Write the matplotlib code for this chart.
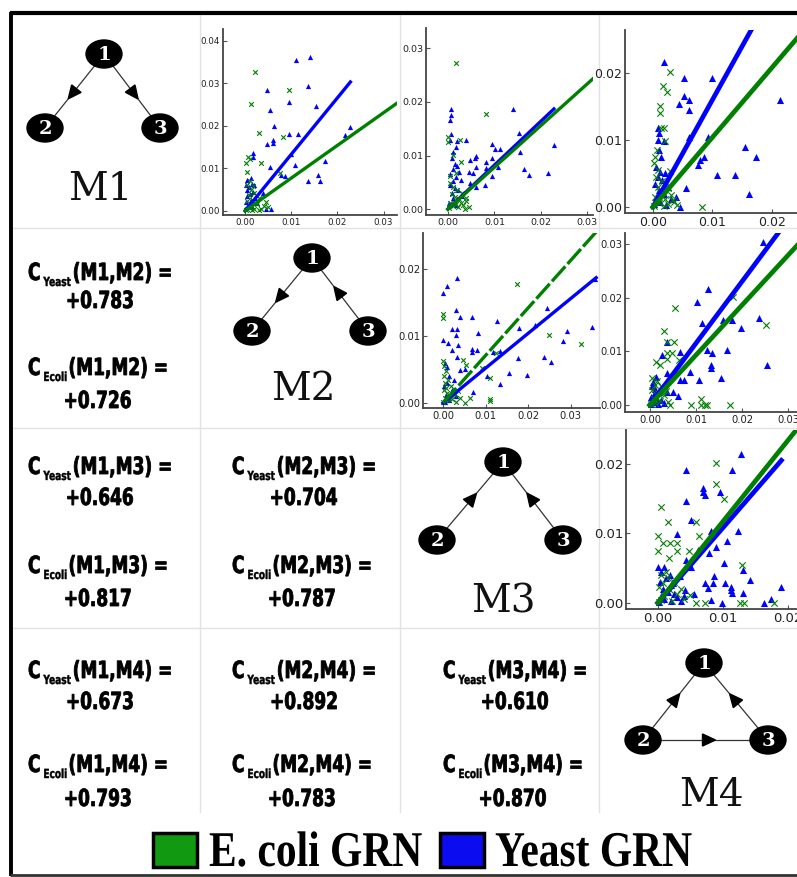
import numpy as np
import matplotlib.pyplot as plt
from matplotlib.patches import Ellipse, Polygon, Rectangle, PathPatch
from matplotlib.ticker import FormatStrFormatter
from matplotlib.textpath import TextPath
from matplotlib.font_manager import FontProperties
from matplotlib.transforms import Affine2D

W, H = 797, 877
SANS = 'DejaVu Sans'
SERIF = 'DejaVu Serif'
BLUE = (0, 0, 1)
GREEN = (0, 0.5, 0)

# correlation of motif participation between pairs of motifs
pairs = ['M1,M2', 'M1,M3', 'M1,M4', 'M2,M3', 'M2,M4', 'M3,M4']
c_yeast = [0.783, 0.646, 0.673, 0.704, 0.892, 0.610]
c_ecoli = [0.726, 0.817, 0.793, 0.787, 0.783, 0.870]

# scatter points (x, y) per motif pair
yeast_m1_m2 = [(0.0111, 0.0354), (0.0140, 0.0362), (0.0047, 0.0284), (0.0136, 0.0293), (0.0095, 0.0256),
               (0.0153, 0.0246), (0.0053, 0.0238), (0.0062, 0.0199), (0.0060, 0.0166), (0.0060, 0.0160),
               (0.0048, 0.0157), (0.0096, 0.0180), (0.0114, 0.0180), (0.0100, 0.0134), (0.0228, 0.0198),
               (0.0216, 0.0178), (0.0172, 0.0116), (0.0107, 0.0108), (0.0053, 0.0104), (0.0018, 0.0135),
               (0.0018, 0.0127), (0.0078, 0.0084), (0.0086, 0.0082), (0.0136, 0.0069), (0.0158, 0.0084),
               (0.0162, 0.0069), (0.0046, 0.0004), (0.0057, 0.0004), (0.0038, 0.0041), (0.0005, 0.0072),
               (0.0012, 0.0078), (0.0015, 0.0062), (0.0008, 0.0055), (0.0003, 0.0048), (0.0018, 0.0045),
               (0.0010, 0.0040), (0.0005, 0.0035), (0.0022, 0.0030), (0.0012, 0.0025), (0.0002, 0.0020),
               (0.0008, 0.0015), (0.0015, 0.0010), (0.0003, 0.0008), (0.0025, 0.0018), (0.0020, 0.0060),
               (0.0001, 0.0060)]
ecoli_m1_m2 = [(0.0022, 0.0327), (0.0096, 0.0285), (0.0012, 0.0251), (0.0030, 0.0182), (0.0082, 0.0174),
               (0.0006, 0.0127), (0.0010, 0.0122), (0.0001, 0.0112), (0.0035, 0.0113), (0.0004, 0.0091),
               (0.0075, 0.0088), (0.0005, 0.0060), (0.0012, 0.0050), (0.0020, 0.0042), (0.0008, 0.0038),
               (0.0030, 0.0030), (0.0015, 0.0025), (0.0004, 0.0022), (0.0025, 0.0015), (0.0040, 0.0012),
               (0.0010, 0.0010), (0.0005, 0.0005), (0.0020, 0.0004), (0.0035, 0.0005), (0.0015, 0.0002),
               (0.0002, 0.0001), (0.0030, 0.0001), (0.0050, 0.0008), (0.0010, 0.0070), (0.0018, 0.0058),
               (0.0045, 0.0020)]

yeast_m1_m3 = [(0.0006, 0.0187), (0.0006, 0.0175), (0.0005, 0.0166), (0.0007, 0.0140), (0.0004, 0.0129),
               (0.0020, 0.0127), (0.0040, 0.0129), (0.0141, 0.0187), (0.0152, 0.0142), (0.0094, 0.0122),
               (0.0101, 0.0113), (0.0112, 0.0113), (0.0047, 0.0092), (0.0060, 0.0100), (0.0058, 0.0096),
               (0.0083, 0.0088), (0.0094, 0.0095), (0.0108, 0.0079), (0.0045, 0.0070), (0.0053, 0.0068),
               (0.0061, 0.0079), (0.0081, 0.0076), (0.0094, 0.0061), (0.0080, 0.0045), (0.0061, 0.0042),
               (0.0047, 0.0048), (0.0155, 0.0107), (0.0163, 0.0074), (0.0174, 0.0064), (0.0215, 0.0067),
               (0.0228, 0.0119), (0.0018, 0.0116), (0.0011, 0.0107), (0.0008, 0.0095), (0.0015, 0.0085),
               (0.0020, 0.0080), (0.0010, 0.0075), (0.0025, 0.0070), (0.0005, 0.0065), (0.0018, 0.0060),
               (0.0012, 0.0052), (0.0028, 0.0055), (0.0004, 0.0045), (0.0015, 0.0040), (0.0022, 0.0035),
               (0.0008, 0.0030), (0.0030, 0.0025), (0.0012, 0.0020), (0.0003, 0.0012), (0.0018, 0.0008)]
ecoli_m1_m3 = [(0.0017, 0.0272), (0.0082, 0.0178), (0.0000, 0.0134), (0.0000, 0.0126), (0.0027, 0.0129),
               (0.0011, 0.0101), (0.0029, 0.0088), (0.0004, 0.0061), (0.0018, 0.0067), (0.0036, 0.0000),
               (0.0029, 0.0011), (0.0005, 0.0048), (0.0012, 0.0042), (0.0020, 0.0035), (0.0030, 0.0030),
               (0.0008, 0.0028), (0.0015, 0.0022), (0.0025, 0.0018), (0.0040, 0.0015), (0.0005, 0.0012),
               (0.0018, 0.0010), (0.0032, 0.0008), (0.0010, 0.0005), (0.0022, 0.0003), (0.0003, 0.0002),
               (0.0045, 0.0004), (0.0038, 0.0020)]

yeast_m1_m4 = [(0.0019, 0.0216), (0.0052, 0.0192), (0.0099, 0.0192), (0.0052, 0.0165), (0.0060, 0.0160),
               (0.0044, 0.0154), (0.0061, 0.0145), (0.0061, 0.0105), (0.0214, 0.0159), (0.0093, 0.0105),
               (0.0085, 0.0075), (0.0079, 0.0070), (0.0076, 0.0062), (0.0107, 0.0048), (0.0138, 0.0048),
               (0.0155, 0.0090), (0.0173, 0.0075), (0.0162, 0.0020), (0.0056, 0.0028), (0.0045, 0.0000),
               (0.0038, 0.0015), (0.0008, 0.0118), (0.0010, 0.0110), (0.0018, 0.0098), (0.0014, 0.0075),
               (0.0008, 0.0100), (0.0010, 0.0085), (0.0005, 0.0060), (0.0012, 0.0052), (0.0020, 0.0050),
               (0.0008, 0.0045), (0.0015, 0.0040), (0.0003, 0.0035), (0.0025, 0.0030), (0.0010, 0.0025),
               (0.0018, 0.0020), (0.0005, 0.0015), (0.0030, 0.0012), (0.0012, 0.0008), (0.0002, 0.0004),
               (0.0022, 0.0003)]
ecoli_m1_m4 = [(0.0029, 0.0202), (0.0017, 0.0181), (0.0023, 0.0171), (0.0012, 0.0150), (0.0012, 0.0140),
               (0.0014, 0.0118), (0.0018, 0.0118), (0.0021, 0.0098), (0.0006, 0.0085), (0.0003, 0.0075),
               (0.0002, 0.0065), (0.0082, 0.0000), (0.0034, 0.0011), (0.0028, 0.0053), (0.0005, 0.0045),
               (0.0015, 0.0038), (0.0008, 0.0030), (0.0025, 0.0028), (0.0012, 0.0022), (0.0030, 0.0018),
               (0.0004, 0.0015), (0.0020, 0.0012), (0.0035, 0.0008), (0.0010, 0.0006), (0.0025, 0.0004),
               (0.0002, 0.0002), (0.0040, 0.0003), (0.0018, 0.0001), (0.0008, 0.0055)]

yeast_m2_m3 = [(0.0032, 0.0187), (0.0009, 0.0175), (0.0000, 0.0164), (0.0030, 0.0139), (0.0039, 0.0129),
               (0.0067, 0.0129), (0.0020, 0.0111), (0.0032, 0.0111), (0.0083, 0.0104), (0.0030, 0.0102),
               (0.0126, 0.0122), (0.0178, 0.0112), (0.0245, 0.0142), (0.0217, 0.0117), (0.0292, 0.0107),
               (0.0351, 0.0114), (0.0283, 0.0092), (0.0237, 0.0069), (0.0254, 0.0061), (0.0177, 0.0067),
               (0.0156, 0.0045), (0.0197, 0.0042), (0.0134, 0.0029), (0.0118, 0.0076), (0.0134, 0.0077),
               (0.0081, 0.0079), (0.0067, 0.0081), (0.0069, 0.0076), (0.0036, 0.0086), (0.0022, 0.0079),
               (0.0032, 0.0069), (0.0051, 0.0051), (0.0103, 0.0041), (0.0071, 0.0017), (0.0012, 0.0089),
               (0.0000, 0.0094), (0.0009, 0.0054), (0.0041, 0.0049), (0.0358, 0.0186), (0.0005, 0.0060),
               (0.0015, 0.0040), (0.0010, 0.0030), (0.0025, 0.0035), (0.0003, 0.0025), (0.0020, 0.0020),
               (0.0008, 0.0012), (0.0030, 0.0010), (0.0015, 0.0005), (0.0005, 0.0002)]
ecoli_m2_m3 = [(0.0000, 0.0133), (0.0000, 0.0127), (0.0174, 0.0178), (0.0249, 0.0101), (0.0324, 0.0088),
               (0.0125, 0.0074), (0.0111, 0.0038), (0.0111, 0.0006), (0.0111, 0.0003), (0.0047, 0.0064),
               (0.0055, 0.0057), (0.0091, 0.0052), (0.0000, 0.0062), (0.0039, 0.0007), (0.0063, 0.0007),
               (0.0051, 0.0000), (0.0028, 0.0014), (0.0002, 0.0055), (0.0008, 0.0048), (0.0003, 0.0040),
               (0.0012, 0.0035), (0.0005, 0.0030), (0.0018, 0.0025), (0.0002, 0.0020), (0.0010, 0.0015),
               (0.0025, 0.0012), (0.0005, 0.0008), (0.0015, 0.0004), (0.0030, 0.0002), (0.0001, 0.0001),
               (0.0020, 0.0006), (0.0008, 0.0022), (0.0035, 0.0018)]

yeast_m2_m4 = [(0.0246, 0.0304), (0.0125, 0.0215), (0.0103, 0.0192), (0.0114, 0.0153), (0.0177, 0.0158),
               (0.0159, 0.0158), (0.0237, 0.0162), (0.0197, 0.0143), (0.0123, 0.0102), (0.0134, 0.0097),
               (0.0168, 0.0102), (0.0255, 0.0074), (0.0132, 0.0074), (0.0132, 0.0069), (0.0107, 0.0046),
               (0.0154, 0.0051), (0.0088, 0.0062), (0.0065, 0.0046), (0.0074, 0.0046), (0.0056, 0.0061),
               (0.0065, 0.0099), (0.0036, 0.0118), (0.0027, 0.0093), (0.0036, 0.0059), (0.0051, 0.0025),
               (0.0061, 0.0017), (0.0036, 0.0025), (0.0014, 0.0053), (0.0007, 0.0043), (0.0005, 0.0035),
               (0.0012, 0.0030), (0.0020, 0.0025), (0.0008, 0.0020), (0.0003, 0.0015), (0.0015, 0.0012),
               (0.0025, 0.0010), (0.0010, 0.0006), (0.0030, 0.0004), (0.0002, 0.0002), (0.0018, 0.0001)]
ecoli_m2_m4 = [(0.0054, 0.0181), (0.0030, 0.0137), (0.0038, 0.0118), (0.0052, 0.0118), (0.0036, 0.0096),
               (0.0047, 0.0096), (0.0038, 0.0085), (0.0181, 0.0201), (0.0251, 0.0148), (0.0014, 0.0080),
               (0.0022, 0.0074), (0.0064, 0.0084), (0.0089, 0.0000), (0.0110, 0.0000), (0.0119, 0.0000),
               (0.0124, 0.0000), (0.0110, 0.0011), (0.0174, 0.0000), (0.0043, 0.0000), (0.0005, 0.0050),
               (0.0015, 0.0045), (0.0010, 0.0038), (0.0025, 0.0035), (0.0005, 0.0028), (0.0018, 0.0022),
               (0.0030, 0.0018), (0.0008, 0.0012), (0.0022, 0.0008), (0.0040, 0.0005), (0.0012, 0.0003),
               (0.0002, 0.0001), (0.0035, 0.0026)]

yeast_m3_m4 = [(0.0128, 0.0215), (0.0044, 0.0192), (0.0114, 0.0192), (0.0069, 0.0165), (0.0069, 0.0160),
               (0.0072, 0.0155), (0.0044, 0.0146), (0.0096, 0.0160), (0.0051, 0.0119), (0.0082, 0.0103),
               (0.0124, 0.0103), (0.0029, 0.0099), (0.0062, 0.0076), (0.0079, 0.0071), (0.0090, 0.0081),
               (0.0107, 0.0089), (0.0102, 0.0057), (0.0131, 0.0047), (0.0141, 0.0033), (0.0189, 0.0023),
               (0.0113, 0.0023), (0.0113, 0.0018), (0.0114, 0.0014), (0.0131, 0.0014), (0.0104, 0.0028),
               (0.0087, 0.0038), (0.0085, 0.0028), (0.0077, 0.0021), (0.0174, 0.0005), (0.0164, 0.0000),
               (0.0098, 0.0000), (0.0082, 0.0004), (0.0072, 0.0028), (0.0051, 0.0052), (0.0044, 0.0062),
               (0.0034, 0.0038), (0.0000, 0.0052), (0.0009, 0.0052), (0.0018, 0.0040), (0.0023, 0.0028),
               (0.0055, 0.0013), (0.0041, 0.0018), (0.0005, 0.0045), (0.0012, 0.0035), (0.0003, 0.0030),
               (0.0020, 0.0025), (0.0008, 0.0020), (0.0015, 0.0015), (0.0025, 0.0012), (0.0005, 0.0010),
               (0.0030, 0.0008), (0.0010, 0.0005), (0.0020, 0.0003), (0.0002, 0.0001), (0.0035, 0.0002),
               (0.0040, 0.0010)]
ecoli_m3_m4 = [(0.0090, 0.0202), (0.0089, 0.0171), (0.0102, 0.0149), (0.0005, 0.0138), (0.0015, 0.0117),
               (0.0059, 0.0117), (0.0000, 0.0096), (0.0000, 0.0075), (0.0008, 0.0086), (0.0019, 0.0086),
               (0.0029, 0.0086), (0.0030, 0.0075), (0.0048, 0.0075), (0.0064, 0.0096), (0.0017, 0.0065),
               (0.0129, 0.0054), (0.0127, 0.0000), (0.0132, 0.0000), (0.0179, 0.0000), (0.0073, 0.0000),
               (0.0059, 0.0000), (0.0049, 0.0011), (0.0005, 0.0040), (0.0015, 0.0035), (0.0008, 0.0028),
               (0.0025, 0.0030), (0.0002, 0.0022), (0.0018, 0.0018), (0.0030, 0.0012), (0.0010, 0.0010),
               (0.0040, 0.0006), (0.0005, 0.0004), (0.0022, 0.0002), (0.0001, 0.0001), (0.0035, 0.0020),
               (0.0012, 0.0045)]

# linear fits through the origin: slope and x extent
fit_yeast_slope = [1.33, 0.82, 1.60, 0.52, 1.15, 1.08]
fit_yeast_xmax = [0.0228, 0.0228, 0.04, 0.036, 0.04, 0.019]
fit_ecoli_slope = [0.77, 0.78, 1.04, 0.71, 0.93, 1.17]
fit_ecoli_xmax = [0.04, 0.04, 0.04, 0.04, 0.04, 0.04]

yeast_pts = [yeast_m1_m2, yeast_m1_m3, yeast_m1_m4, yeast_m2_m3, yeast_m2_m4, yeast_m3_m4]
ecoli_pts = [ecoli_m1_m2, ecoli_m1_m3, ecoli_m1_m4, ecoli_m2_m3, ecoli_m2_m4, ecoli_m3_m4]

# panel geometry in pixels: left, top, right, bottom
boxes = [(223, 29, 397, 215), (426, 28, 593, 215), (625, 30, 797, 213),
         (423, 233, 600, 408), (625, 233, 797, 412), (626, 430, 797, 609)]
xlims = [(-0.0048, 0.0329), (-0.0047, 0.0312), (-0.0047, 0.0242),
         (-0.0047, 0.0369), (-0.0054, 0.0319), (-0.0049, 0.0214)]
ylims = [(-0.001, 0.0428), (-0.0011, 0.0338), (-0.0009, 0.0264),
         (-0.00075, 0.0254), (-0.0013, 0.032), (-0.0009, 0.0249)]
xtick_max = [0.03, 0.03, 0.02, 0.03, 0.03, 0.02]
ytick_max = [0.04, 0.03, 0.02, 0.02, 0.03, 0.02]
tick_fs = [6.3, 6.8, 9, 7.2, 7.2, 9.5]
big = [False, False, True, False, True, True]

fig = plt.figure(figsize=(W / 100, H / 100), dpi=100)
bg = fig.add_axes([0, 0, 1, 1])
bg.set_xlim(0, W)
bg.set_ylim(H, 0)
bg.axis('off')


def path_text(x, y, s, size, sx, family, ha='left', weight='bold', stroke=0.0):
    # glyph outlines squeezed horizontally by sx; size is the em height in pixels
    tp = TextPath((0, 0), s, size=size, prop=FontProperties(family=family, weight=weight))
    w = tp.get_extents().x1 * sx
    if ha == 'center':
        x -= w / 2
    path = Affine2D().scale(sx, -1).translate(x, y).transform_path(tp)
    bg.add_patch(PathPatch(path, facecolor='black', edgecolor='black', lw=stroke,
                           zorder=6))
    return w


# table grid and outer frame
for x in [200, 400, 599]:
    bg.plot([x, x], [15, 812], color='#e2e2e2', lw=1, zorder=0)
for y in [228, 428, 628]:
    bg.plot([13, W], [y, y], color='#e2e2e2', lw=1, zorder=0)
bg.plot([10, W], [13, 13], color='black', lw=3, solid_capstyle='butt')
bg.plot([11.5, 11.5], [12, 876], color='black', lw=2.8, solid_capstyle='butt')
bg.plot([10, W], [875, 875], color='#333333', lw=2, solid_capstyle='butt')

# scatter panels
for i in range(6):
    l, t, r, b = boxes[i]
    ax = fig.add_axes([l / W, (H - b) / H, (r - l) / W, (b - t) / H])
    yx, yy = np.array(yeast_pts[i]).T
    ex, ey = np.array(ecoli_pts[i]).T
    ms = 26 if big[i] else 14
    ax.scatter(yx, yy, marker='^', s=ms, color=BLUE, linewidths=0, zorder=2)
    ax.scatter(ex, ey, marker='x', s=ms * 0.8, color=GREEN, linewidths=0.8, zorder=3)
    lw = 3.4 if big[i] else 2.4
    xb = np.array([0, fit_yeast_xmax[i]])
    ax.plot(xb, fit_yeast_slope[i] * xb, color=BLUE, lw=lw, zorder=4)
    xg = np.array([0, fit_ecoli_xmax[i]])
    ls = (0, (6, 1)) if i == 3 else '-'
    ax.plot(xg, fit_ecoli_slope[i] * xg, color=GREEN, lw=lw, ls=ls, zorder=5)
    ax.set_xlim(*xlims[i])
    ax.set_ylim(*ylims[i])
    ax.set_xticks(np.arange(0, xtick_max[i] + 1e-4, 0.01))
    ax.set_yticks(np.arange(0, ytick_max[i] + 1e-4, 0.01))
    ax.xaxis.set_major_formatter(FormatStrFormatter('%.2f'))
    ax.yaxis.set_major_formatter(FormatStrFormatter('%.2f'))
    ax.tick_params(direction='in', length=3, width=0.8, color='#555555', labelcolor='#222222',
                   labelsize=tick_fs[i], pad=2, top=False, right=False)
    for s in ['top', 'right']:
        ax.spines[s].set_visible(False)
    for s in ['left', 'bottom']:
        ax.spines[s].set_color('#444444')
        ax.spines[s].set_linewidth(1.3)
    ax.patch.set_alpha(0)


# correlation labels: C with a subscript, then the value centred below
def corr_label(x, y, y2, sub, pair, value):
    sx = 0.72
    x1 = x + path_text(x, y, 'C', 23.6, sx, SANS, stroke=0.6) + 4
    x2 = x1 + path_text(x1, y + 6, sub, 12.5, sx, SANS, stroke=0.3) + 2
    x3 = x2 + path_text(x2, y, '(%s) =' % pair, 23.6, sx, SANS, stroke=0.6)
    path_text((x + x3) / 2, y2, '+%.3f' % value, 23.6, sx, SANS, ha='center', stroke=0.6)


text_x = [28, 232, 443]
row_base = {'M2': (280, 308, 375, 408), 'M3': (474, 505, 573, 606), 'M4': (678, 709, 772, 806)}
for k, pair in enumerate(pairs):
    a, b = pair.split(',')
    col = int(a[1]) - 1
    yb = row_base[b]
    corr_label(text_x[col], yb[0], yb[1], 'Yeast', pair, c_yeast[k])
    corr_label(text_x[col], yb[2], yb[3], 'Ecoli', pair, c_ecoli[k])


# motif diagrams
def motif(nodes, edges, label, label_xy):
    for a, b in edges:
        p0, p1 = np.array(nodes[a], float), np.array(nodes[b], float)
        bg.plot([p0[0], p1[0]], [p0[1], p1[1]], color='#333333', lw=0.9, zorder=2)
        u = (p1 - p0) / np.hypot(*(p1 - p0))
        n = np.array([-u[1], u[0]])
        c = (p0 + p1) / 2 + u * 3
        tip, base = c + u * 7, c - u * 6
        bg.add_patch(Polygon([tip, base + n * 6, base - n * 6], closed=True,
                             color='black', zorder=3))
    for k, (x, y) in nodes.items():
        bg.add_patch(Ellipse((x, y), 36, 28, color='black', zorder=4))
        bg.text(x, y + 1, k, color='white', ha='center', va='center', fontsize=14,
                weight='bold', family=SERIF, zorder=5)
    bg.text(label_xy[0], label_xy[1], label, ha='center', va='center', fontsize=28,
            family=SERIF, color='#111111')


motif({'1': (104, 54), '2': (45, 128), '3': (160, 128)}, [('1', '2'), ('1', '3')],
      'M1', (100, 190))
motif({'1': (312, 258), '2': (252, 331), '3': (368, 331)}, [('1', '2'), ('3', '1')],
      'M2', (303, 390))
motif({'1': (503, 462), '2': (437, 540), '3': (563, 540)}, [('2', '1'), ('3', '1')],
      'M3', (503, 602))
motif({'1': (704, 663), '2': (643, 740), '3': (768, 740)},
      [('2', '1'), ('3', '1'), ('2', '3')], 'M4', (711, 796))

# legend
bg.add_patch(Rectangle((153, 833), 44, 34, facecolor='#129912', edgecolor='black', lw=2.5))
path_text(209, 866, 'E. coli GRN', 50, 0.83, 'Liberation Serif')
bg.add_patch(Rectangle((440, 833), 44, 34, facecolor='#0c0cf0', edgecolor='black', lw=2.5))
path_text(495, 866, 'Yeast GRN', 50, 0.83, 'Liberation Serif')

fig.savefig('out.png', dpi=100)
